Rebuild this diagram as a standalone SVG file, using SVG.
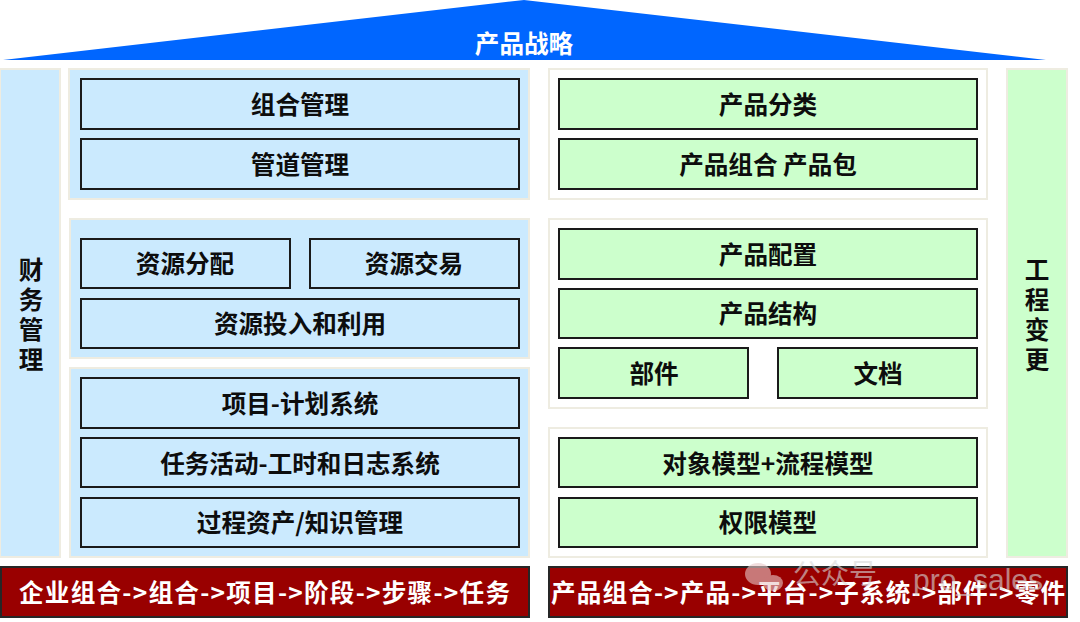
<svg xmlns="http://www.w3.org/2000/svg" width="1080" height="622" viewBox="0 0 1080 622">
<style>
text{font-family:"Noto Sans CJK SC","Liberation Sans",sans-serif;font-weight:700;text-anchor:middle;fill:#0d0d0d;font-size:24.6px;dominant-baseline:central}
.pb{fill:#cbeafe;stroke:#eeece1;stroke-width:2}
.pg{fill:#fff;stroke:#eeece1;stroke-width:2}
.sg{fill:#ccffcc;stroke:#eeece1;stroke-width:2}
.b{fill:#cbeafe;stroke:#1a1a1a;stroke-width:2}
.g{fill:#ccffcc;stroke:#1a1a1a;stroke-width:2}
.r{fill:#990000;stroke:#262626;stroke-width:2}
.w{fill:#fff}
.wm{font-weight:400;fill:#d8d8d8}
</style>
<g id="strategy"><polygon points="3,60 524,0 1046,60" fill="#0066ff"/><text x="524" y="42" class="w">产品战略</text></g>
<g id="finance"><rect class="pb" x="0" y="69" width="60" height="488"/><text x="31" y="268"><tspan x="31">财</tspan><tspan x="31" dy="30">务</tspan><tspan x="31" dy="30">管</tspan><tspan x="31" dy="30">理</tspan></text></g>
<g id="change"><rect class="sg" x="1007" y="69" width="60" height="488"/><text x="1037" y="268"><tspan x="1037">工</tspan><tspan x="1037" dy="30">程</tspan><tspan x="1037" dy="30">变</tspan><tspan x="1037" dy="30">更</tspan></text></g>
<g id="panels">
<rect class="pb" x="69" y="69" width="460" height="130"/>
<rect class="pb" x="70" y="219" width="459" height="139"/>
<rect class="pb" x="70" y="368" width="459" height="189"/>
<rect class="pg" x="549" y="69" width="438" height="130"/>
<rect class="pg" x="549" y="219" width="438" height="189"/>
<rect class="pg" x="549" y="428" width="438" height="129"/>
</g>
<g id="n1"><rect class="b" x="81" y="79" width="438" height="50"/><text x="300" y="103">组合管理</text></g>
<g id="n2"><rect class="b" x="81" y="139" width="438" height="50"/><text x="300" y="163">管道管理</text></g>
<g id="n3"><rect class="b" x="81" y="239" width="209" height="49"/><text x="185" y="262">资源分配</text></g>
<g id="n4"><rect class="b" x="310" y="239" width="209" height="49"/><text x="414" y="262">资源交易</text></g>
<g id="n5"><rect class="b" x="81" y="299" width="438" height="49"/><text x="300" y="322">资源投入和利用</text></g>
<g id="n6"><rect class="b" x="81" y="378" width="438" height="50"/><text x="300" y="402">项目-计划系统</text></g>
<g id="n7"><rect class="b" x="81" y="438" width="438" height="49"/><text x="300" y="462">任务活动-工时和日志系统</text></g>
<g id="n8"><rect class="b" x="81" y="498" width="438" height="49"/><text x="300" y="521">过程资产/知识管理</text></g>
<g id="n9"><rect class="g" x="559" y="79" width="418" height="50"/><text x="768" y="103">产品分类</text></g>
<g id="n10"><rect class="g" x="559" y="139" width="418" height="50"/><text x="768" y="163">产品组合 产品包</text></g>
<g id="n11"><rect class="g" x="559" y="229" width="418" height="50"/><text x="768" y="253">产品配置</text></g>
<g id="n12"><rect class="g" x="559" y="289" width="418" height="49"/><text x="768" y="312">产品结构</text></g>
<g id="n13"><rect class="g" x="559" y="348" width="189" height="50"/><text x="654" y="372">部件</text></g>
<g id="n14"><rect class="g" x="778" y="348" width="199" height="50"/><text x="878" y="372">文档</text></g>
<g id="n15"><rect class="g" x="559" y="438" width="418" height="49"/><text x="768" y="462">对象模型+流程模型</text></g>
<g id="n16"><rect class="g" x="559" y="498" width="418" height="49"/><text x="768" y="521">权限模型</text></g>
<g id="n17"><rect class="r" x="1" y="567" width="528" height="50"/><text x="264.5" y="591" class="w" textLength="491" lengthAdjust="spacing">企业组合-&gt;组合-&gt;项目-&gt;阶段-&gt;步骤-&gt;任务</text></g>
<g id="n18"><rect class="r" x="549" y="567" width="518" height="50"/><text x="808" y="591" class="w" textLength="514" lengthAdjust="spacing">产品组合-&gt;产品-&gt;平台-&gt;子系统-&gt;部件-&gt;零件</text></g>
<g id="watermark" opacity="0.6">
<ellipse cx="758" cy="574" rx="13" ry="11" fill="#e8c8c8"/><ellipse cx="773" cy="583" rx="10" ry="8" fill="#e8c8c8"/>
<text x="835" y="572" class="wm" style="font-size:28px">公众号</text>
<text x="978" y="579" class="wm" style="font-size:30px;font-family:'Liberation Sans',sans-serif">pro_sales</text>
</g>
</svg>
